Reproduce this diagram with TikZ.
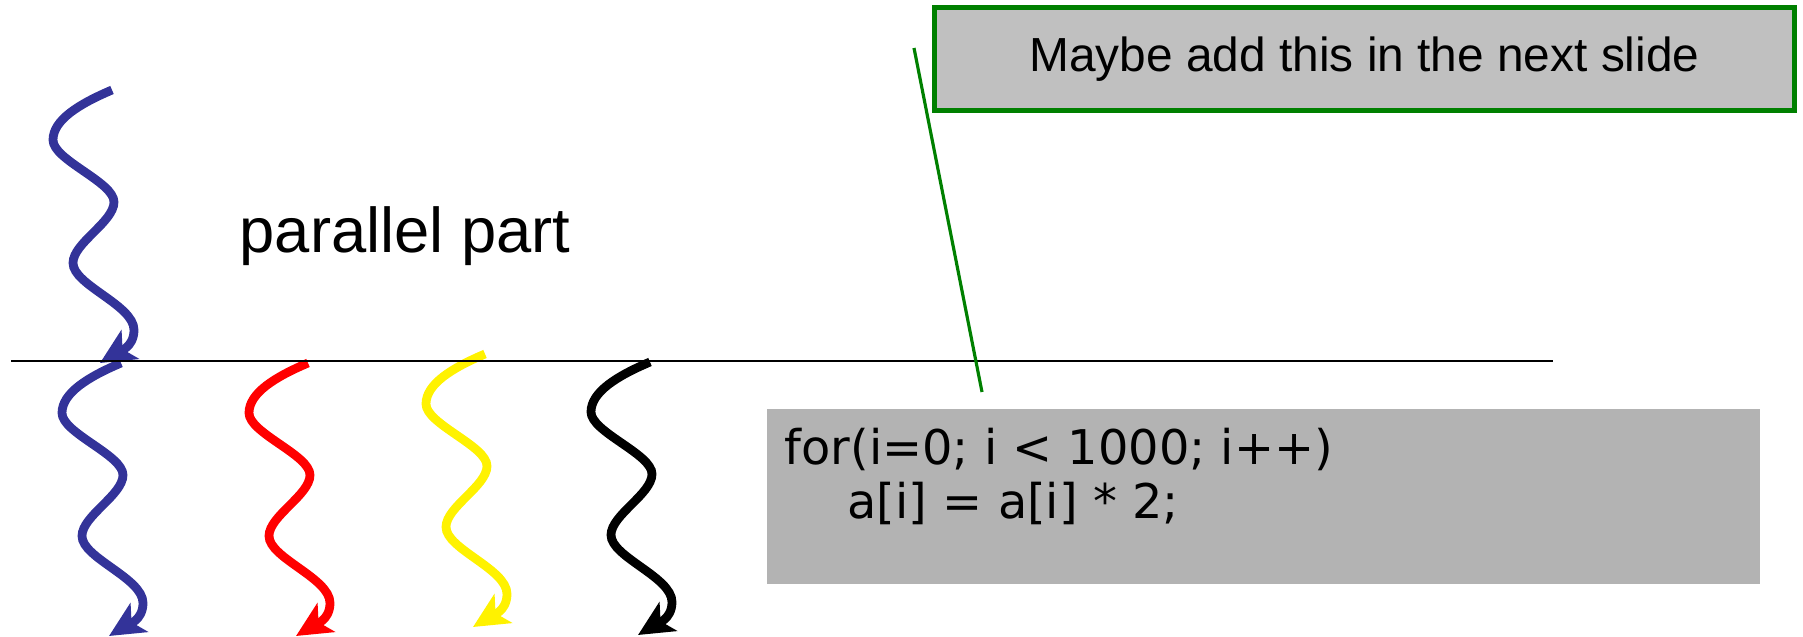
\documentclass[tikz,border=0pt]{standalone}
\usepackage{fontspec}
\setmainfont{Liberation Sans}
\newfontfamily\codefont{DejaVu Sans}
\usetikzlibrary{arrows.meta}

\definecolor{threadblue}{RGB}{51,51,153}
\definecolor{notegreen}{RGB}{0,128,0}
\definecolor{notegray}{RGB}{192,192,192}
\definecolor{codegray}{RGB}{179,179,179}

% one wavy thread, relative to its start point
\newcommand{\threadpath}{(0,0) .. controls (-33,14) and (-59,30) .. (-59,50)
  .. controls (-59,70) and (2,92) .. (2,112)
  .. controls (2,132) and (-39,153) .. (-39,173)
  .. controls (-39,195) and (22,215) .. (22,240)
  .. controls (22,258) and (6,262) .. (-12,273)}

\begin{document}
\begin{tikzpicture}[x=0.01cm, y=-0.01cm,
  thread/.style={line width=2.5pt, -{Stealth[length=10pt, width=9.5pt, inset=2.5pt]}},
  divider/.style={line width=0.35pt, black},
  notebox/.style={draw=notegreen, line width=1.3pt, fill=notegray, minimum width=8.6cm, minimum height=1.03cm, font=\fontsize{13.6}{16}\selectfont},
  codebox/.style={fill=codegray, inner sep=0pt, minimum width=9.93cm, minimum height=1.75cm},
  codetext/.style={inner sep=0pt, align=left, font=\codefont\fontsize{13.6}{15.5}\selectfont}]
\useasboundingbox (0,0) rectangle (1803,637);

% Threads
\draw[thread, threadblue, shift={(112,90)}] \threadpath;
\foreach \x/\y/\c in {121/363/threadblue, 308/363/red, 485/354/yellow, 650/362/black}
  \draw[thread, \c, shift={(\x,\y)}] \threadpath;

% Divider
\draw[divider] (11,361) -- (1553,361);

% Boxes
\node[notebox] (note) at (1364.5,59) {Maybe add this in the next slide};
\node[codebox, anchor=north west] (code) at (766,408) {};
\node[codetext, anchor=north west] (loop) at (784,427) {for(i=0; i < 1000; i++)\\\hspace*{17.9pt}a[i] = a[i] * 2;};

% Callout line
\coordinate (noteA) at (914,48);
\coordinate (noteB) at (982,392);
\draw[notegreen, line width=0.9pt] (noteA) -- (noteB);

% Labels
\node[inner sep=0pt, anchor=base west, font=\fontsize{18}{21.6}\selectfont] (par) at (239,253) {parallel part};
\end{tikzpicture}
\end{document}
